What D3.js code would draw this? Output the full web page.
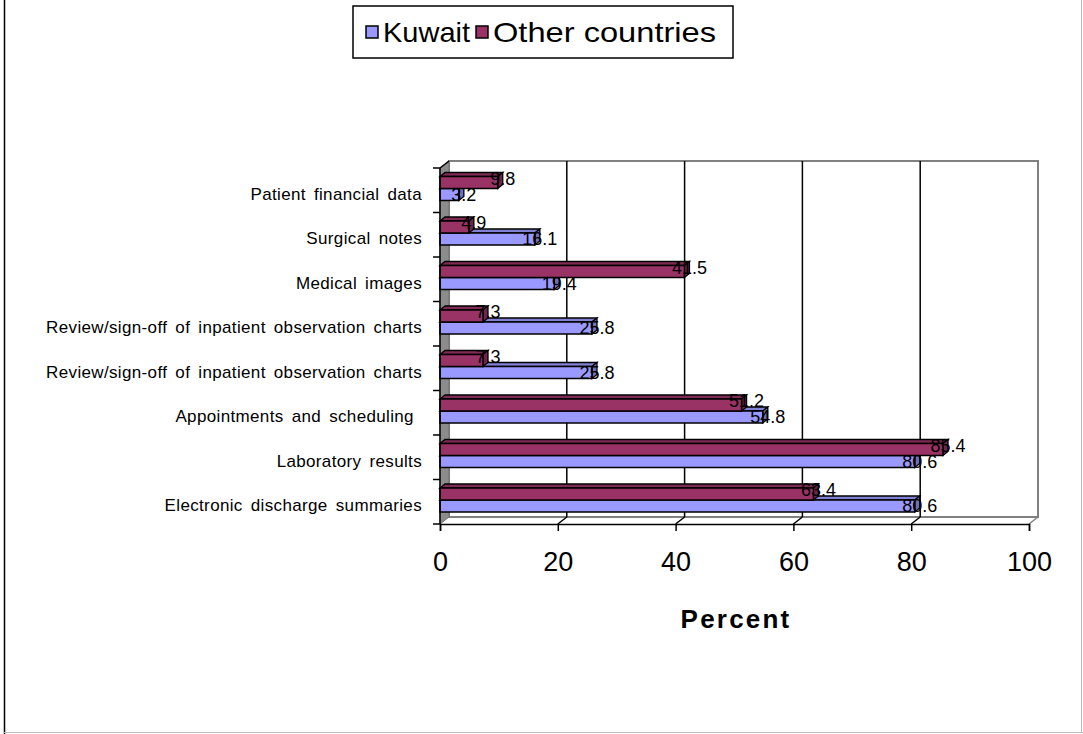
<!DOCTYPE html>
<html><head><meta charset="utf-8">
<script src="https://cdn.jsdelivr.net/npm/d3@7"></script>
<style>
body{margin:0;background:#fff;}
text{font-family:"Liberation Sans",Arial,sans-serif;}
</style></head>
<body><svg id="c" width="1083" height="734"></svg>
<script>
const categories = ["Patient financial data","Surgical notes","Medical images",
  "Review/sign-off of inpatient observation charts","Review/sign-off of inpatient observation charts",
  "Appointments and scheduling ","Laboratory results","Electronic discharge summaries"];
const kuwait = [3.2, 16.1, 19.4, 25.8, 25.8, 54.8, 80.6, 80.6];
const other  = [9.8, 4.9, 41.5, 7.3, 7.3, 51.2, 85.4, 63.4];
const xTicks = [0, 20, 40, 60, 80, 100];
const seriesNames = ["Kuwait", "Other countries"];
const seriesColors = ["#9999FF", "#993366"];

const svg = d3.select("#c");
// outer frame
svg.append("line").attr("x1",4.5).attr("x2",4.5).attr("y1",0).attr("y2",734).attr("stroke","#000").attr("stroke-width",1.5);
svg.append("line").attr("x1",4).attr("x2",1083).attr("y1",732.5).attr("y2",732.5).attr("stroke","#bbb").attr("stroke-width",1);
svg.append("line").attr("x1",1081.5).attr("x2",1081.5).attr("y1",0).attr("y2",733).attr("stroke","#bbb").attr("stroke-width",1);

const x = d3.scaleLinear().domain([0,100]).range([440,1029]);
const y = d3.scaleBand().domain(d3.range(categories.length)).range([168,524]);
const DX = 9, DY = -7;     // wall depth
const BDX = 5, BDY = -4;   // bar depth
const yTop = 168, yBot = 524;

// back wall
svg.append("rect").attr("x",x(0)+DX).attr("y",yTop+DY).attr("width",x(100)-x(0)).attr("height",yBot-yTop)
  .attr("fill","#fff").attr("stroke","#808080").attr("stroke-width",2);
// gridlines on back wall
svg.selectAll("line.grid").data(xTicks.filter(d=>d>0&&d<100)).join("line")
  .attr("x1",d=>x(d)+DX).attr("x2",d=>x(d)+DX).attr("y1",yTop+DY).attr("y2",yBot+DY)
  .attr("stroke","#000").attr("stroke-width",1.5);
// floor depth segments
svg.selectAll("line.fl").data(xTicks.filter(d=>d>0)).join("line")
  .attr("x1",d=>x(d)).attr("y1",yBot).attr("x2",d=>x(d)+DX).attr("y2",yBot+DY)
  .attr("stroke",d=>d===100?"#808080":"#000").attr("stroke-width",1.5);
// left wall
svg.append("polygon").attr("points",[[x(0),yTop],[x(0)+DX,yTop+DY],[x(0)+DX,yBot+DY],[x(0),yBot]].map(p=>p.join(",")).join(" "))
  .attr("fill","#8c8c8c").attr("stroke","#707070").attr("stroke-width",1);
svg.append("line").attr("x1",x(0)).attr("y1",yTop).attr("x2",x(0)+DX).attr("y2",yTop+DY).attr("stroke","#000").attr("stroke-width",1.5);

const bh = 12;
function barY(i, s){ return y(i) + 8.5 + (s===1?0:bh); }

function shade(c,k){ return d3.color(c).darker(k).formatHex(); }
function drawBar(g, v, yy, col){
  const x0 = x(0), x1 = x(v);
  const pts = a=>a.map(p=>p.join(",")).join(" ");
  g.append("polygon").attr("points",pts([[x0,yy],[x1,yy],[x1+BDX,yy+BDY],[x0+BDX,yy+BDY]]))
    .attr("fill",shade(col,0.5)).attr("stroke","#000").attr("stroke-width",1.3);
  g.append("polygon").attr("points",pts([[x1,yy],[x1+BDX,yy+BDY],[x1+BDX,yy+bh+BDY],[x1,yy+bh]]))
    .attr("fill",shade(col,0.9)).attr("stroke","#000").attr("stroke-width",1.3);
  g.append("rect").attr("x",x0).attr("y",yy).attr("width",x1-x0).attr("height",bh)
    .attr("fill",col).attr("stroke","#000").attr("stroke-width",1.5);
}
const barG = svg.append("g");
categories.forEach((c,i)=>{
  drawBar(barG, kuwait[i], barY(i,0), seriesColors[0]);
  drawBar(barG, other[i], barY(i,1), seriesColors[1]);
});

// value labels
const labG = svg.append("g").attr("font-size",18).attr("text-anchor","middle").attr("fill","#000");
[kuwait, other].forEach((arr,s)=>{
  labG.selectAll(null).data(arr).join("text")
    .attr("x",d=>x(d)+BDX).attr("y",(d,i)=>barY(i,s)+bh/2-(s===1?4:0)).attr("dy","0.35em")
    .text(d=>d.toFixed(1));
});

// left axis line + boundary ticks
svg.append("line").attr("x1",x(0)).attr("x2",x(0)).attr("y1",yTop).attr("y2",yBot).attr("stroke","#000").attr("stroke-width",1.5);
const bounds = d3.range(categories.length+1).map(i=> i<categories.length ? y(i) : yBot);
svg.selectAll("line.lt").data(bounds).join("line")
  .attr("x1",x(0)-7).attr("x2",x(0)).attr("y1",d=>d).attr("y2",d=>d).attr("stroke","#000").attr("stroke-width",1.5);
// category labels via axis
const ya = svg.append("g").attr("transform",`translate(${x(0)-18},0)`)
  .call(d3.axisLeft(y).tickSize(0).tickPadding(0).tickFormat(i=>categories[i]));
ya.select(".domain").remove();
ya.selectAll("text").attr("font-size",17).attr("fill","#000").style("white-space","pre")
  .attr("letter-spacing","0.35px").attr("word-spacing","3px")
  .attr("font-family","Liberation Sans, Arial, sans-serif").attr("dy","0.55em");

// bottom axis
const xa = svg.append("g").attr("transform",`translate(0,${yBot})`)
  .call(d3.axisBottom(x).tickValues(xTicks).tickSize(7).tickPadding(21).tickFormat(d3.format("d")));
xa.select(".domain").attr("stroke","#000").attr("stroke-width",1.5);
xa.selectAll(".tick line").attr("stroke","#000").attr("stroke-width",1.5);
xa.selectAll("text").attr("font-size",27).attr("fill","#000").attr("font-family","Liberation Sans, Arial, sans-serif");

svg.append("text").attr("x",736).attr("y",628).attr("text-anchor","middle").attr("font-size",26)
  .attr("font-weight","bold").attr("letter-spacing","2.2px").text("Percent");

// legend
svg.append("rect").attr("x",353).attr("y",6).attr("width",380).attr("height",52).attr("fill","#fff").attr("stroke","#000").attr("stroke-width",1.5);
const lx = [366, 476];
const lw = [87, 223];
seriesNames.forEach((n,i)=>{
  svg.append("rect").attr("x",lx[i]).attr("y",26).attr("width",12).attr("height",12)
    .attr("fill",seriesColors[i]).attr("stroke","#000").attr("stroke-width",1.5);
  svg.append("text").attr("x",lx[i]+17).attr("y",42).attr("font-size",28)
    .attr("textLength",lw[i]).attr("lengthAdjust","spacingAndGlyphs").attr("fill","#000").text(n);
});
</script></body></html>
